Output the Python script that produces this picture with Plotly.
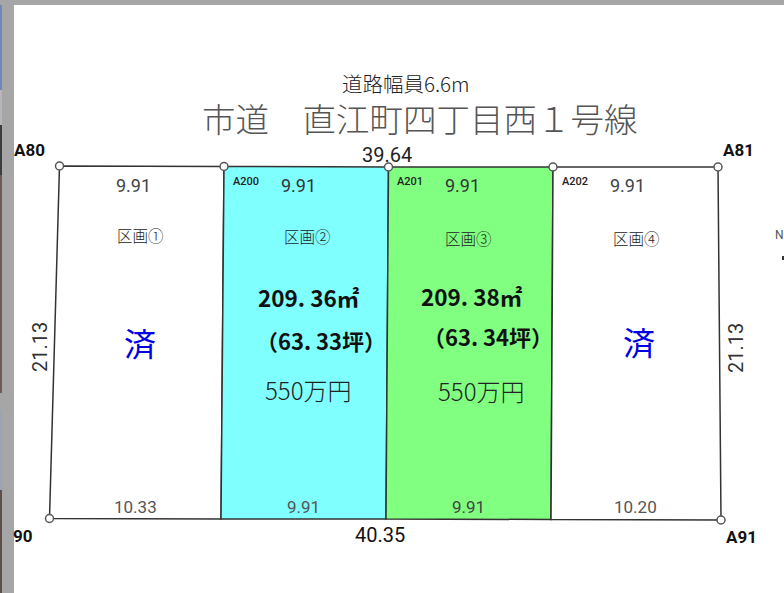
import plotly.graph_objects as go

JP = "Noto Sans CJK JP"
NUM = "Roboto"

# Parcel boundary
top_x = [59.5, 224, 388.5, 553, 718]
top_y = [166, 166.5, 167, 167, 167]
bot_x = [49.5, 221, 386, 551, 721]
bot_y = [518.5, 519, 519, 519.5, 520]
lot_fill = ["#ffffff", "#80ffff", "#80ff80", "#ffffff"]

# Survey point markers
point_x = [59.5, 224, 388.5, 553, 718, 49.5, 721]
point_y = [166, 166.5, 167, 167, 167, 518.5, 520]

# Text: x, y, label, size, colour, family, angle, weight, box height
road_text = [
    (406, 83, "道路幅員6.6m", 20.5, "#222222", JP, 0, 300, 24),
    (420, 117, "市道　直江町四丁目西１号線", 33.5, "#555555", JP, 0, 300, 40),
]
point_text = [
    (29, 150, "A80", 17, "#111111", NUM, 0, 700, None),
    (738, 150, "A81", 17, "#111111", NUM, 0, 700, None),
    (23, 536, "90", 17, "#111111", NUM, 0, 700, None),
    (741, 537, "A91", 17, "#111111", NUM, 0, 700, None),
    (246, 181, "A200", 11, "#222222", NUM, 0, 500, None),
    (410, 181, "A201", 11, "#222222", NUM, 0, 500, None),
    (575, 181, "A202", 11, "#222222", NUM, 0, 500, None),
]
dim_text = [
    (133, 185, "9.91", 18, "#444444", NUM, 0, 400, None),
    (298, 185, "9.91", 18, "#333333", NUM, 0, 400, None),
    (462, 185, "9.91", 18, "#333333", NUM, 0, 400, None),
    (627, 185, "9.91", 18, "#444444", NUM, 0, 400, None),
    (135, 507, "10.33", 17, "#555555", NUM, 0, 400, None),
    (303, 507, "9.91", 17, "#555555", NUM, 0, 400, None),
    (468, 507, "9.91", 17, "#444444", NUM, 0, 400, None),
    (635, 507, "10.20", 17, "#555555", NUM, 0, 400, None),
    (387, 155, "39.64", 20, "#222222", NUM, 0, 400, None),
    (380, 535, "40.35", 20, "#111111", NUM, 0, 400, None),
    (40, 347, "21.13", 20, "#333333", NUM, -90, 400, None),
    (736, 348, "21.13", 20, "#333333", NUM, -90, 400, None),
]
lot_text = [
    (140, 235, "区画①", 15.5, "#222222", JP, 0, 300, None),
    (307, 236, "区画②", 15.5, "#222222", JP, 0, 300, None),
    (468, 238, "区画③", 15.5, "#222222", JP, 0, 300, None),
    (636, 238, "区画④", 15.5, "#222222", JP, 0, 300, None),
    (140, 342, "済", 32, "#0000e0", JP, 0, 400, None),
    (639, 341, "済", 32, "#0000e0", JP, 0, 400, None),
]
area_text = [
    (309, 297, "209. 36㎡", 22.5, "#111111", JP, 0, 700, None),
    (472, 296, "209. 38㎡", 22.5, "#111111", JP, 0, 700, None),
    (321, 340, "（63. 33坪）", 22, "#111111", JP, 0, 700, None),
    (488, 336, "（63. 34坪）", 22, "#111111", JP, 0, 700, None),
    (308, 389, "550万円", 24, "#222222", JP, 0, 300, None),
    (481, 390, "550万円", 24, "#222222", JP, 0, 300, None),
]
edge_text = [(779.5, 235, "N", 12, "#555555", NUM, 0, 400, None)]

fig = go.Figure()

for i in range(4):
    fig.add_trace(go.Scatter(
        x=[top_x[i], top_x[i + 1], bot_x[i + 1], bot_x[i], top_x[i]],
        y=[top_y[i], top_y[i + 1], bot_y[i + 1], bot_y[i], top_y[i]],
        mode="lines", fill="toself", fillcolor=lot_fill[i],
        line=dict(color="#333333", width=1.5), hoverinfo="skip", showlegend=False,
    ))

fig.add_trace(go.Scatter(
    x=point_x, y=point_y, mode="markers",
    marker=dict(size=8, color="#ffffff", line=dict(color="#555555", width=1.5)),
    hoverinfo="skip", showlegend=False,
))

annotations = []
for x, y, t, s, c, f, a, w, h in road_text + point_text + dim_text + lot_text + area_text + edge_text:
    item = dict(x=x, y=y, text=t, showarrow=False, xanchor="center", yanchor="middle",
                textangle=a, font=dict(size=s, color=c, family=f, weight=w))
    if h is not None:
        item["height"] = h
    annotations.append(item)

# Grey window surround and the sliver of photo along the left edge
strip_y0 = [5, 90, 125, 175, 410, 490]
strip_y1 = [90, 125, 175, 393, 490, 593]
strip_colors = ["#6f88b8", "#b9b4bc", "#3e3c40", "#6e5a55", "#9aa4b4", "#5e4e48"]

shapes = [
    dict(type="rect", layer="below", x0=0, x1=784, y0=0, y1=5, fillcolor="#a6a6a6", line_width=0),
    dict(type="rect", layer="below", x0=0, x1=14, y0=0, y1=593, fillcolor="#a6a6a6", line_width=0),
    dict(type="rect", layer="below", x0=782, x1=784, y0=256, y1=260, fillcolor="#333333", line_width=0),
]
for y0, y1, col in zip(strip_y0, strip_y1, strip_colors):
    shapes.append(dict(type="rect", layer="below", x0=0, x1=2, y0=y0, y1=y1,
                       fillcolor=col, line_width=0))

fig.update_layout(
    width=784, height=593, margin=dict(l=0, r=0, t=0, b=0),
    paper_bgcolor="#ffffff", plot_bgcolor="#ffffff", showlegend=False,
    xaxis=dict(range=[0, 784], visible=False, fixedrange=True),
    yaxis=dict(range=[593, 0], visible=False, fixedrange=True),
    annotations=annotations, shapes=shapes,
)

fig.write_html(
    "out.html",
    config={"displayModeBar": False},
    post_script="document.body.style.margin='0';document.documentElement.style.overflow='hidden';",
)
